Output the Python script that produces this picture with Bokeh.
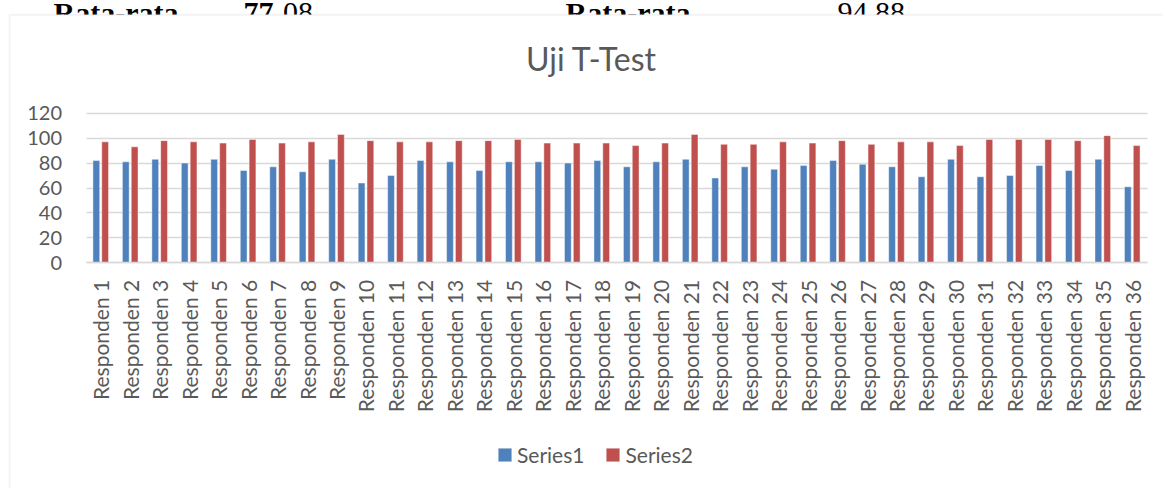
import math
from bokeh.plotting import figure
from bokeh.models import (ColumnDataSource, Label, BoxAnnotation, Legend, LegendItem,
                          SingleIntervalTicker, FixedTicker, Range1d, Grid)
from bokeh.transform import dodge
from bokeh.embed import file_html
from bokeh.resources import INLINE

# ---------------- data ----------------
categories = [
    "Responden 1", "Responden 2", "Responden 3", "Responden 4", "Responden 5", "Responden 6",
    "Responden 7", "Responden 8", "Responden 9", "Responden 10", "Responden 11", "Responden 12",
    "Responden 13", "Responden 14", "Responden 15", "Responden 16", "Responden 17", "Responden 18",
    "Responden 19", "Responden 20", "Responden 21", "Responden 22", "Responden 23", "Responden 24",
    "Responden 25", "Responden 26", "Responden 27", "Responden 28", "Responden 29", "Responden 30",
    "Responden 31", "Responden 32", "Responden 33", "Responden 34", "Responden 35", "Responden 36",
]
series1 = [82, 81, 83, 80, 83, 74, 77, 73, 83, 64, 70, 82, 81, 74, 81, 81, 80, 82,
           77, 81, 83, 68, 77, 75, 78, 82, 79, 77, 69, 83, 69, 70, 78, 74, 83, 61]
series2 = [97, 93, 98, 97, 96, 99, 96, 97, 103, 98, 97, 97, 98, 98, 99, 96, 96, 96,
           94, 96, 103, 95, 95, 97, 96, 98, 95, 97, 97, 94, 99, 99, 99, 98, 102, 94]
series_names = ["Series1", "Series2"]
title_text = "Uji T-Test"
header_texts = ["Rata-rata", "77", ".08", "Rata-rata", "94.88"]
y_max = 120
y_tick_step = 20

# ---------------- styles / geometry ----------------
BLUE = "#4F81BD"
RED = "#C0504D"
GRID = "#d9d9d9"
TXT = "#595959"
FONT = "Lato"
W, H = 1163, 488
PLOT_L, PLOT_R, PLOT_T, PLOT_B = 85.5, 1146.5, 112.7, 262.3

n = len(categories)
xu = (PLOT_R - PLOT_L) / n
x_start = -0.5 - PLOT_L / xu
x_end = x_start + W / xu
yu = (PLOT_B - PLOT_T) / y_max
y_start = -(H - PLOT_B) / yu
y_end = y_max + PLOT_T / yu

idx = list(range(n))
src = ColumnDataSource(dict(x=idx, cat=categories, s1=series1, s2=series2))

p = figure(
    x_range=Range1d(x_start, x_end), y_range=Range1d(y_start, y_end),
    width=W, height=H,
    min_border=0, min_border_left=0, min_border_right=0, min_border_top=0, min_border_bottom=0,
    output_backend="svg", toolbar_location=None,
)
p.title.visible = False
p.outline_line_color = None
p.background_fill_color = "white"
p.border_fill_color = "white"

# gridlines (only across the category area)
p.xgrid.visible = False
y_ticks = list(range(0, y_max + 1, y_tick_step))
if "cross_bounds" in Grid.properties():
    p.ygrid.cross_bounds = (-0.5, n - 0.5)
    p.ygrid.bounds = (0, y_max)
    p.ygrid.grid_line_color = GRID
    p.ygrid.grid_line_width = 1.5
else:
    p.ygrid.visible = False
    p.segment(x0=[-0.5] * len(y_ticks), x1=[n - 0.5] * len(y_ticks), y0=y_ticks, y1=y_ticks,
              line_color=GRID, line_width=1.5)

r1 = p.vbar(x=dodge("x", -0.15), top="s1", width=0.23, source=src,
            fill_color=BLUE, line_color="white", line_alpha=0.45, line_width=1)
r2 = p.vbar(x=dodge("x", 0.15), top="s2", width=0.23, source=src,
            fill_color=RED, line_color="white", line_alpha=0.45, line_width=1)

# axes placed inside the (full-canvas) frame
p.yaxis.fixed_location = -0.5
p.yaxis.bounds = (0, y_max)
p.yaxis.ticker = SingleIntervalTicker(interval=y_tick_step)
p.yaxis.axis_line_color = None
p.yaxis.major_tick_line_color = None
p.yaxis.minor_tick_line_color = None
p.yaxis.major_tick_out = 0
p.yaxis.major_label_standoff = 20
p.yaxis.major_label_text_font = FONT
p.yaxis.major_label_text_font_size = "20px"
p.yaxis.major_label_text_color = TXT

p.xaxis.fixed_location = 0
p.xaxis.bounds = (-0.5, n - 0.5)
p.xaxis.ticker = FixedTicker(ticks=idx)
p.xaxis.major_label_overrides = {i: c for i, c in zip(idx, categories)}
p.xaxis.axis_line_color = GRID
p.xaxis.axis_line_width = 1.5
p.xaxis.major_tick_line_color = None
p.xaxis.minor_tick_line_color = None
p.xaxis.major_tick_out = 0
p.xaxis.major_label_standoff = 17
p.xaxis.major_label_orientation = math.pi / 2
p.xaxis.major_label_text_font = FONT
p.xaxis.major_label_text_font_size = "21px"
p.xaxis.major_label_text_color = TXT

# header text (partly hidden behind the chart box)
hdr_font = "Liberation Serif"
for txt, x, bold in [(header_texts[0], 53, True), (header_texts[1], 243, True),
                     (header_texts[2], 275, False), (header_texts[3], 565, True),
                     (header_texts[4], 837, False)]:
    p.add_layout(Label(x=x, y=12, x_units="canvas", y_units="canvas", text=txt,
                       text_font=hdr_font, text_font_size="30px",
                       text_font_style="bold" if bold else "normal",
                       text_color="black", text_baseline="alphabetic", text_align="left"))

# white strip hiding the lower part of the header text, then the chart-area border
p.add_layout(BoxAnnotation(left=9, right=1200, top=14.3, bottom=40,
                           left_units="canvas", right_units="canvas",
                           top_units="canvas", bottom_units="canvas",
                           fill_color="white", fill_alpha=1.0, line_color=None))
p.add_layout(BoxAnnotation(left=9, right=1200, top=14.3, bottom=520,
                           left_units="canvas", right_units="canvas",
                           top_units="canvas", bottom_units="canvas",
                           fill_color=None, fill_alpha=0,
                           line_color=GRID, line_width=2))

# title
p.add_layout(Label(x=591, y=58, x_units="canvas", y_units="canvas", text=title_text,
                   text_font=FONT, text_font_size="32px", text_color=TXT,
                   text_align="center", text_baseline="alphabetic"))

legend = Legend(items=[LegendItem(label=series_names[0], renderers=[r1]),
                       LegendItem(label=series_names[1], renderers=[r2])],
                orientation="horizontal", location=(496, 21),
                glyph_width=17, glyph_height=17, label_standoff=4, spacing=20,
                padding=0, margin=0, border_line_color=None, background_fill_alpha=0,
                label_text_font=FONT, label_text_font_size="21px", label_text_color=TXT)
p.add_layout(legend)

open("out.html", "w").write(file_html(p, INLINE))
